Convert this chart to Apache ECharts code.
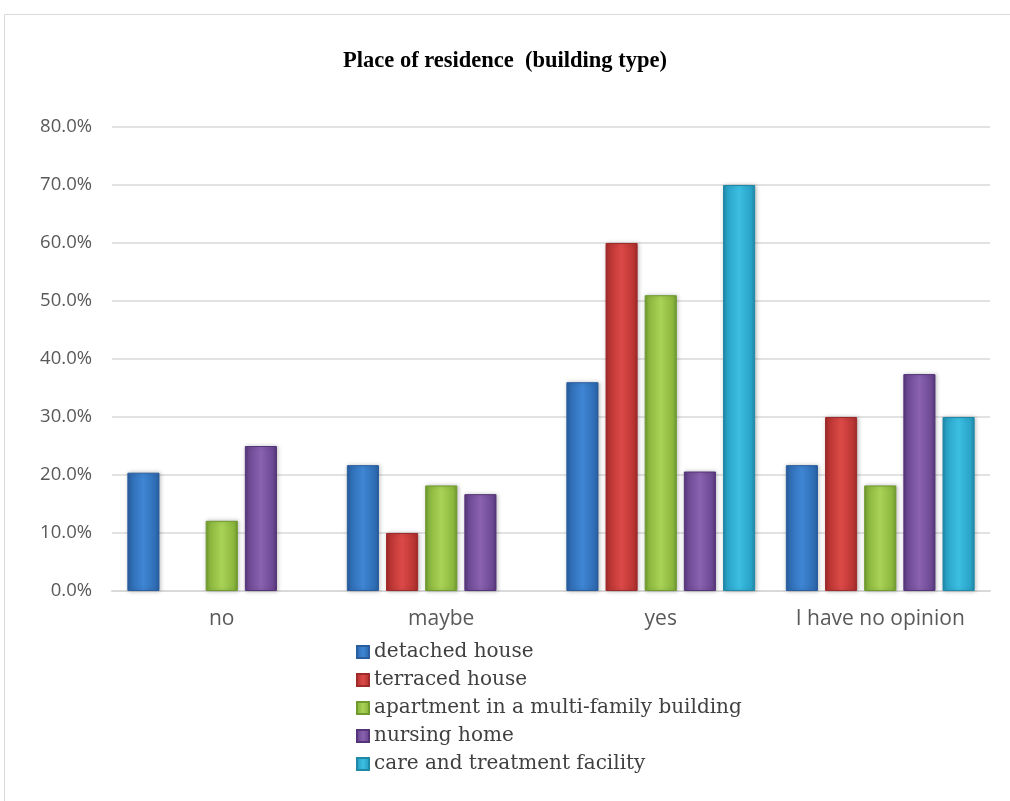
<!DOCTYPE html>
<html><head><meta charset="utf-8">
<script src="https://cdn.jsdelivr.net/npm/echarts@6/dist/echarts.min.js"></script>
<style>html,body{margin:0;padding:0;background:#fff}#c{width:1010px;height:801px}</style>
</head><body><div id="c"></div>
<script>
const categories = ['no', 'maybe', 'yes', 'I have no opinion'];
const seriesNames = ['detached house', 'terraced house', 'apartment in a multi-family building', 'nursing home', 'care and treatment facility'];
const detached = [20.4, 21.7, 36.0, 21.7];
const terraced = [0, 10.0, 60.0, 30.0];
const apartment = [12.1, 18.2, 51.0, 18.2];
const nursing = [25.0, 16.7, 20.6, 37.4];
const care = [0, 0, 70.0, 30.0];
const yTicks = [0, 10, 20, 30, 40, 50, 60, 70, 80];

const values = [detached, terraced, apartment, nursing, care];
const palette = [
  ['#2a5e9e', '#3f86d4', '#2f6db5'],
  ['#a02a2a', '#dc4a47', '#b93533'],
  ['#6f9a2e', '#a9d356', '#8bb73e'],
  ['#55357a', '#8a62b0', '#6c4993'],
  ['#1e8aa8', '#3cbfe2', '#2aa3c8']
];
function grad(p){
  return new echarts.graphic.LinearGradient(0,0,1,0,[
    {offset:0,color:p[0]},{offset:0.12,color:p[2]},{offset:0.5,color:p[1]},{offset:0.88,color:p[2]},{offset:1,color:p[0]}
  ]);
}
const chart = echarts.init(document.getElementById('c'));
chart.setOption({
  backgroundColor:'#fff',
  animation:false,
  title:{text:'Place of residence  (building type)', left:'center', top:45,
    textStyle:{fontFamily:'Liberation Serif, DejaVu Serif, serif', fontWeight:'bold', fontSize:22.5, color:'#000'}},
  graphic:[{type:'rect', shape:{x:4.5,y:14.5,width:1010,height:800}, style:{fill:'none', stroke:'#d9d9d9', lineWidth:1}, silent:true}],
  legend:{orient:'vertical', left:351, top:637, itemWidth:12, itemHeight:12, itemGap:8, itemTextGap:6,
    icon:'rect',
    textStyle:{fontFamily:'DejaVu Serif, serif', fontSize:20, color:'#404040'},
    data:seriesNames.map((n,i)=>({name:n, itemStyle:{color:grad(palette[i])}}))},
  grid:{left:112, right:20, top:127, bottom:210, containLabel:false},
  xAxis:{type:'category', data:categories,
    axisLine:{lineStyle:{color:'#d9d9d9', width:2}}, axisTick:{show:false},
    axisLabel:{interval:0, fontFamily:'Open Sans, Liberation Sans, sans-serif', fontSize:21, color:'#595959', margin:18}},
  yAxis:{type:'value', min:0, max:80, interval:10,
    axisLine:{show:false}, axisTick:{show:false},
    splitLine:{lineStyle:{color:'#d9d9d9', width:1.5}},
    axisLabel:{fontFamily:'Open Sans, Liberation Sans, sans-serif', fontSize:18.5, color:'#595959', margin:20,
      formatter:v=>yTicks.includes(v)? v.toFixed(1)+'%' : ''}},
  series:values.map((d,i)=>({
    name:seriesNames[i], type:'bar', barGap:'22%', barCategoryGap:'14%',
    data:d.map(v=> v===0 ? {value:v, itemStyle:{borderWidth:0, shadowBlur:0, opacity:0}} : v),
    itemStyle:{color:grad(palette[i]), borderColor:palette[i][0], borderWidth:1,
      shadowColor:'rgba(0,0,0,0.25)', shadowBlur:4, shadowOffsetX:1}
  }))
});
</script></body></html>
